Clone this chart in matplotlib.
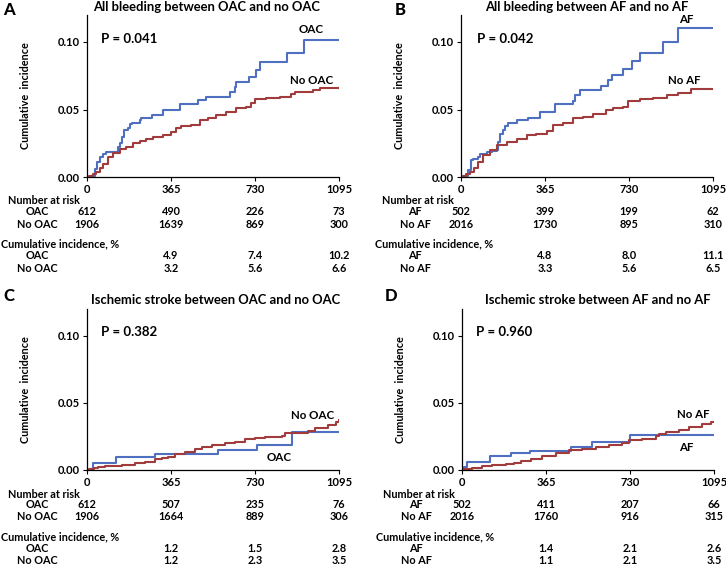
import numpy as np
import matplotlib
matplotlib.use('Agg')
import matplotlib.pyplot as plt

plt.rcParams['font.family'] = ['Lato', 'DejaVu Sans']

# ---- data (days, cumulative incidence) ----
a_oac_t = [0, 12, 33, 43, 55, 70, 84, 135, 142, 153, 159, 178, 185, 197, 229, 236, 284, 330, 403, 482, 518, 620, 641, 649, 704, 736, 750, 869, 941, 1095]
a_oac_y = [0, 0.001, 0.006, 0.011, 0.015, 0.017, 0.0186, 0.022, 0.025, 0.030, 0.035, 0.036, 0.039, 0.040, 0.042, 0.0434, 0.046, 0.0496, 0.054, 0.057, 0.0596, 0.063, 0.067, 0.0707, 0.0744, 0.079, 0.085, 0.092, 0.1017, 0.1017]
a_no_t = [0, 10, 25, 40, 55, 70, 91, 113, 142, 171, 200, 229, 258, 287, 330, 366, 388, 410, 453, 489, 526, 562, 605, 649, 692, 714, 728, 779, 837, 888, 902, 982, 1011, 1095]
a_no_y = [0, 0.001, 0.002, 0.0037, 0.007, 0.010, 0.015, 0.018, 0.021, 0.022, 0.025, 0.027, 0.028, 0.030, 0.031, 0.033, 0.036, 0.038, 0.0385, 0.042, 0.044, 0.046, 0.048, 0.051, 0.052, 0.0546, 0.0576, 0.0588, 0.0596, 0.0615, 0.063, 0.0645, 0.066, 0.066]

b_af_t = [0, 10, 32, 42, 54, 75, 82, 111, 133, 155, 162, 169, 184, 191, 205, 242, 292, 343, 408, 487, 495, 516, 610, 640, 654, 704, 741, 777, 878, 943, 1095]
b_af_y = [0, 0.001, 0.005, 0.0124, 0.0136, 0.015, 0.017, 0.0186, 0.019, 0.020, 0.026, 0.032, 0.035, 0.038, 0.040, 0.042, 0.044, 0.048, 0.054, 0.0566, 0.061, 0.0645, 0.0675, 0.072, 0.0757, 0.080, 0.0856, 0.092, 0.100, 0.1104, 0.1104]
b_no_t = [0, 8, 22, 39, 55, 75, 97, 126, 155, 198, 242, 285, 328, 372, 401, 444, 487, 531, 574, 632, 661, 704, 726, 777, 835, 893, 943, 1001, 1095]
b_no_y = [0, 0.001, 0.002, 0.0037, 0.007, 0.011, 0.016, 0.020, 0.0236, 0.026, 0.0285, 0.031, 0.032, 0.0342, 0.0385, 0.0397, 0.0434, 0.0447, 0.047, 0.0496, 0.051, 0.052, 0.0566, 0.0576, 0.0588, 0.061, 0.0625, 0.065, 0.065]

c_oac_t = [0, 13, 28, 125, 295, 568, 737, 892, 1095]
c_oac_y = [0, 0.001, 0.005, 0.010, 0.012, 0.015, 0.019, 0.028, 0.028]
c_no_t = [0, 10, 30, 49, 78, 150, 208, 252, 295, 324, 353, 382, 426, 469, 498, 541, 600, 643, 686, 730, 773, 846, 860, 961, 990, 1048, 1084, 1095]
c_no_y = [0, 0.0005, 0.0015, 0.0025, 0.003, 0.004, 0.005, 0.006, 0.008, 0.0087, 0.010, 0.012, 0.0137, 0.0154, 0.0174, 0.0187, 0.020, 0.021, 0.0229, 0.0236, 0.0244, 0.025, 0.0279, 0.0294, 0.031, 0.0336, 0.036, 0.0373]

d_af_t = [0, 10, 23, 120, 211, 294, 472, 566, 731, 1095]
d_af_y = [0, 0.002, 0.0062, 0.0104, 0.0124, 0.0144, 0.0174, 0.021, 0.026, 0.026]
d_no_t = [0, 10, 45, 88, 132, 190, 226, 255, 298, 349, 407, 465, 523, 581, 639, 696, 725, 783, 841, 856, 885, 943, 986, 1044, 1080, 1095]
d_no_y = [0, 0.0008, 0.0017, 0.003, 0.0035, 0.0042, 0.0055, 0.007, 0.008, 0.0104, 0.013, 0.015, 0.016, 0.0174, 0.019, 0.020, 0.022, 0.023, 0.025, 0.027, 0.028, 0.030, 0.032, 0.034, 0.0355, 0.0355]

x_ticks = [0, 365, 730, 1095]

titles = ["All bleeding between OAC and no OAC", "All bleeding between AF and no AF",
          "Ischemic stroke between OAC and no OAC", "Ischemic stroke between AF and no AF"]
letters = ["A", "B", "C", "D"]
p_values = ["P = 0.041", "P = 0.042", "P = 0.382", "P = 0.960"]
groups = [["OAC", "No OAC"], ["AF", "No AF"], ["OAC", "No OAC"], ["AF", "No AF"]]

at_risk = [
    [[612, 490, 226, 73], [1906, 1639, 869, 300]],
    [[502, 399, 199, 62], [2016, 1730, 895, 310]],
    [[612, 507, 235, 76], [1906, 1664, 889, 306]],
    [[502, 411, 207, 66], [2016, 1760, 916, 315]],
]
cum_inc = [
    [["4.9", "7.4", "10.2"], ["3.2", "5.6", "6.6"]],
    [["4.8", "8.0", "11.1"], ["3.3", "5.6", "6.5"]],
    [["1.2", "1.5", "2.8"], ["1.2", "2.3", "3.5"]],
    [["1.4", "2.1", "2.6"], ["1.1", "2.1", "3.5"]],
]
curves = [
    ((a_oac_t, a_oac_y), (a_no_t, a_no_y)),
    ((b_af_t, b_af_y), (b_no_t, b_no_y)),
    ((c_oac_t, c_oac_y), (c_no_t, c_no_y)),
    ((d_af_t, d_af_y), (d_no_t, d_no_y)),
]
# curve label anchors (day, value) for the treated / untreated group
label_pos = [
    [(975, 0.109), (975, 0.0715)],
    [(979, 0.1166), (971, 0.0715)],
    [(837, 0.0092), (979, 0.0406)],
    [(976, 0.0166), (1005, 0.041)],
]

BLUE = '#4F6FC0'
RED = '#A23B3B'

W, H = 726, 566
fig = plt.figure(figsize=(W / 100, H / 100), dpi=100)

# axes boxes in pixels: left, y of zero line, top
boxes = [(87, 177, 15), (461, 177, 15), (87, 470, 309), (462, 470, 309)]
title_xy = [(207, 7), (587, 7), (216, 300), (598, 300)]
letter_xy = [(9, 10), (400, 10), (9, 296), (391, 296)]

PT = 0.72  # points per pixel at 100 dpi
FS = 7.8   # table font size


def put(ax, x, xcoord, dy, s, ha='center', **kw):
    # place text below the axis, dy pixels below the zero line
    if xcoord == 'data':
        ax.annotate(s, xy=(x, 0), xycoords=ax.get_xaxis_transform(), xytext=(0, -dy * PT),
                    textcoords='offset points', ha=ha, va='center', annotation_clip=False, **kw)
    else:
        ax.annotate(s, xy=(0, 0), xycoords='axes fraction', xytext=(x * PT, -dy * PT),
                    textcoords='offset points', ha=ha, va='center', annotation_clip=False, **kw)


for i in range(4):
    left, y0, top = boxes[i]
    ax = fig.add_axes([left / W, 1 - y0 / H, 252 / W, (y0 - top) / H])
    (t1, v1), (t2, v2) = curves[i]
    ax.step(t1, v1, where='post', color=BLUE, lw=1.5)
    ax.step(t2, v2, where='post', color=RED, lw=1.5)
    ax.set_xlim(0, 1095)
    ax.set_ylim(0, 0.12)
    ax.set_xticks(x_ticks)
    ax.set_yticks([0, 0.05, 0.10])
    ax.set_yticklabels(["0.00", "0.05", "0.10"])
    ax.tick_params(direction='out', length=3, width=0.8, labelsize=8, pad=2)
    for lab in ax.get_xticklabels() + ax.get_yticklabels():
        lab.set_fontweight('bold')
    ax.spines['top'].set_visible(False)
    ax.spines['right'].set_visible(False)
    ax.spines['left'].set_linewidth(0.9)
    ax.spines['bottom'].set_linewidth(0.9)
    ax.set_ylabel("Cumulative  incidence", fontsize=7.8, fontweight='bold')
    ax.yaxis.set_label_coords(-56 / 252, 0.5)

    ax.text(62 if i != 1 else 68, 0.1025, p_values[i], fontsize=9.5,
            fontweight='bold', va='center', ha='left')
    for g in range(2):
        lx, ly = label_pos[i][g]
        ax.text(lx, ly, groups[i][g], fontsize=8.3, fontweight='bold', ha='center', va='center')

    fig.text(title_xy[i][0] / W, 1 - title_xy[i][1] / H, titles[i], fontsize=9.4,
             fontweight='bold', ha='center', va='center')
    fig.text(letter_xy[i][0] / W, 1 - letter_xy[i][1] / H, letters[i], fontsize=12,
             fontweight='black', ha='center', va='center')

    # numbers at risk and cumulative incidence table
    put(ax, -79, 'px', 24, "Number at risk", ha='left', fontsize=FS, fontweight='bold')
    put(ax, -86, 'px', 67, "Cumulative incidence, %", ha='left', fontsize=FS, fontweight='bold')
    for g, dy in zip(range(2), (34.5, 47)):
        put(ax, -50 if i % 2 == 0 else -46, 'px', dy, groups[i][g], fontsize=FS, fontweight='bold')
        for k, xt in enumerate(x_ticks):
            put(ax, xt, 'data', dy, str(at_risk[i][g][k]), fontsize=FS, fontweight='bold')
    for g, dy in zip(range(2), (78.5, 91)):
        put(ax, -50 if i % 2 == 0 else -46, 'px', dy, groups[i][g], fontsize=FS, fontweight='bold')
        for k, xt in enumerate(x_ticks[1:]):
            put(ax, xt, 'data', dy, cum_inc[i][g][k], fontsize=FS, fontweight='bold')

fig.savefig("out.png", dpi=100)
